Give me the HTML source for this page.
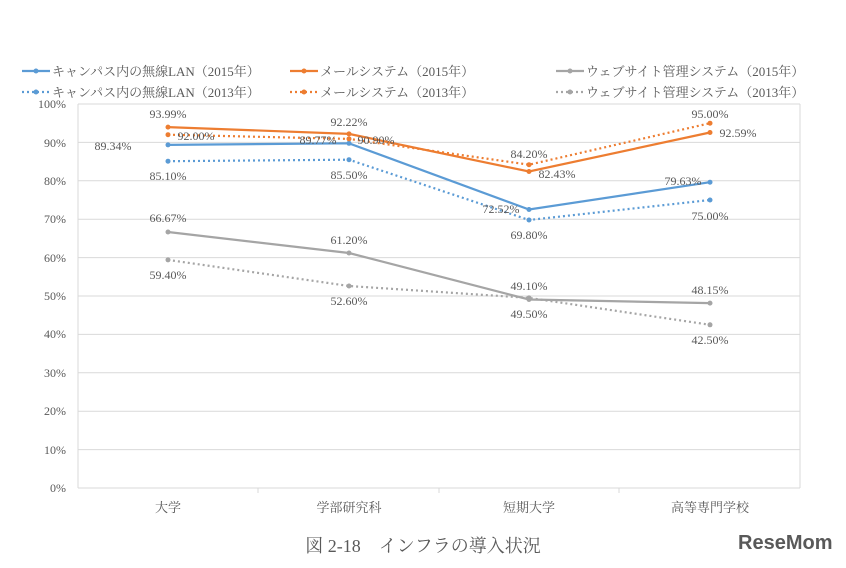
<!DOCTYPE html>
<html><head><meta charset="utf-8"><style>
body{margin:0;background:#fff}
svg text{font-family:"Liberation Serif","Noto Serif CJK SC",serif;fill:#595959}
</style></head><body>
<svg width="846" height="563" viewBox="0 0 846 563" xmlns="http://www.w3.org/2000/svg">
<g stroke="#d9d9d9" stroke-width="1">
<line x1="78" y1="104" x2="800" y2="104"/><line x1="78" y1="142.4" x2="800" y2="142.4"/><line x1="78" y1="180.8" x2="800" y2="180.8"/><line x1="78" y1="219.2" x2="800" y2="219.2"/><line x1="78" y1="257.6" x2="800" y2="257.6"/><line x1="78" y1="296" x2="800" y2="296"/><line x1="78" y1="334.4" x2="800" y2="334.4"/><line x1="78" y1="372.8" x2="800" y2="372.8"/><line x1="78" y1="411.2" x2="800" y2="411.2"/><line x1="78" y1="449.6" x2="800" y2="449.6"/><line x1="78" y1="488" x2="800" y2="488"/>
<line x1="78" y1="104" x2="78" y2="488"/><line x1="800" y1="104" x2="800" y2="488"/>
<line x1="258" y1="488" x2="258" y2="493"/><line x1="439" y1="488" x2="439" y2="493"/><line x1="619" y1="488" x2="619" y2="493"/>
</g>
<g font-size="12" text-anchor="end">
<text x="66" y="108">100%</text><text x="66" y="147">90%</text><text x="66" y="185">80%</text><text x="66" y="223">70%</text><text x="66" y="262">60%</text><text x="66" y="300">50%</text><text x="66" y="338">40%</text><text x="66" y="377">30%</text><text x="66" y="415">20%</text><text x="66" y="454">10%</text><text x="66" y="492">0%</text>
</g>
<g font-size="13" text-anchor="middle">
<text x="168" y="512">大学</text><text x="349" y="512">学部研究科</text><text x="529" y="512">短期大学</text><text x="710" y="512">高等専門学校</text>
</g>
<g fill="none" stroke-width="2.2">
<polyline stroke="#a5a5a5" stroke-dasharray="2,3" points="168,259.9 349,286 529,297.9 710,324.8"/>
<polyline stroke="#5b9bd5" stroke-dasharray="2,3" points="168,161.2 349,159.7 529,220 710,200"/>
<polyline stroke="#ed7d31" stroke-dasharray="2,3" points="168,134.7 349,138.9 529,164.7 710,123.2"/>
<polyline stroke="#a5a5a5" points="168,232 349,253 529,299.5 710,303.1"/>
<polyline stroke="#5b9bd5" points="168,144.9 349,143.3 529,209.5 710,182.2"/>
<polyline stroke="#ed7d31" points="168,127.1 349,133.9 529,171.5 710,132.5"/>
</g>
<g fill="#a5a5a5"><circle cx="168" cy="259.9" r="2.5"/><circle cx="349" cy="286" r="2.5"/><circle cx="529" cy="297.9" r="2.5"/><circle cx="710" cy="324.8" r="2.5"/><circle cx="168" cy="232" r="2.5"/><circle cx="349" cy="253" r="2.5"/><circle cx="529" cy="299.5" r="2.5"/><circle cx="710" cy="303.1" r="2.5"/></g>
<g fill="#5b9bd5"><circle cx="168" cy="161.2" r="2.5"/><circle cx="349" cy="159.7" r="2.5"/><circle cx="529" cy="220" r="2.5"/><circle cx="710" cy="200" r="2.5"/><circle cx="168" cy="144.9" r="2.5"/><circle cx="349" cy="143.3" r="2.5"/><circle cx="529" cy="209.5" r="2.5"/><circle cx="710" cy="182.2" r="2.5"/></g>
<g fill="#ed7d31"><circle cx="168" cy="134.7" r="2.5"/><circle cx="349" cy="138.9" r="2.5"/><circle cx="529" cy="164.7" r="2.5"/><circle cx="710" cy="123.2" r="2.5"/><circle cx="168" cy="127.1" r="2.5"/><circle cx="349" cy="133.9" r="2.5"/><circle cx="529" cy="171.5" r="2.5"/><circle cx="710" cy="132.5" r="2.5"/></g>
<g font-size="12" text-anchor="middle" fill="#404040">
<text x="168" y="118">93.99%</text><text x="196" y="140">92.00%</text><text x="113" y="150">89.34%</text><text x="168" y="180">85.10%</text>
<text x="168" y="222">66.67%</text><text x="168" y="279">59.40%</text>
<text x="349" y="126">92.22%</text><text x="376" y="144">90.90%</text><text x="318" y="144">89.77%</text><text x="349" y="179">85.50%</text>
<text x="349" y="244">61.20%</text><text x="349" y="305">52.60%</text>
<text x="529" y="158">84.20%</text><text x="557" y="178">82.43%</text><text x="501" y="213">72.52%</text><text x="529" y="239">69.80%</text>
<text x="529" y="290">49.10%</text><text x="529" y="318">49.50%</text>
<text x="710" y="118">95.00%</text><text x="738" y="137">92.59%</text><text x="683" y="185">79.63%</text><text x="710" y="220">75.00%</text>
<text x="710" y="294">48.15%</text><text x="710" y="344">42.50%</text>
</g>
<g font-size="13" fill="#595959">
<line x1="22" y1="71" x2="50" y2="71" stroke="#5b9bd5" stroke-width="2.2"/><circle cx="36" cy="71" r="2.5" fill="#5b9bd5"/><text x="52" y="76">キャンパス内の無線LAN（2015年）</text>
<line x1="22" y1="92" x2="50" y2="92" stroke="#5b9bd5" stroke-width="2.2" stroke-dasharray="2,3"/><circle cx="36" cy="92" r="2.5" fill="#5b9bd5"/><text x="52" y="97">キャンパス内の無線LAN（2013年）</text>
<line x1="290" y1="71" x2="318" y2="71" stroke="#ed7d31" stroke-width="2.2"/><circle cx="304" cy="71" r="2.5" fill="#ed7d31"/><text x="320" y="76">メールシステム（2015年）</text>
<line x1="290" y1="92" x2="318" y2="92" stroke="#ed7d31" stroke-width="2.2" stroke-dasharray="2,3"/><circle cx="304" cy="92" r="2.5" fill="#ed7d31"/><text x="320" y="97">メールシステム（2013年）</text>
<line x1="556" y1="71" x2="584" y2="71" stroke="#a5a5a5" stroke-width="2.2"/><circle cx="570" cy="71" r="2.5" fill="#a5a5a5"/><text x="586" y="76">ウェブサイト管理システム（2015年）</text>
<line x1="556" y1="92" x2="584" y2="92" stroke="#a5a5a5" stroke-width="2.2" stroke-dasharray="2,3"/><circle cx="570" cy="92" r="2.5" fill="#a5a5a5"/><text x="586" y="97">ウェブサイト管理システム（2013年）</text>
</g>
<text x="423" y="552" font-size="18" text-anchor="middle" fill="#222">図 2-18　インフラの導入状況</text>
<text x="738" y="549" font-size="20" font-weight="bold" style="font-family:'Liberation Sans',sans-serif" fill="#555">ReseMom</text>
</svg>
</body></html>
